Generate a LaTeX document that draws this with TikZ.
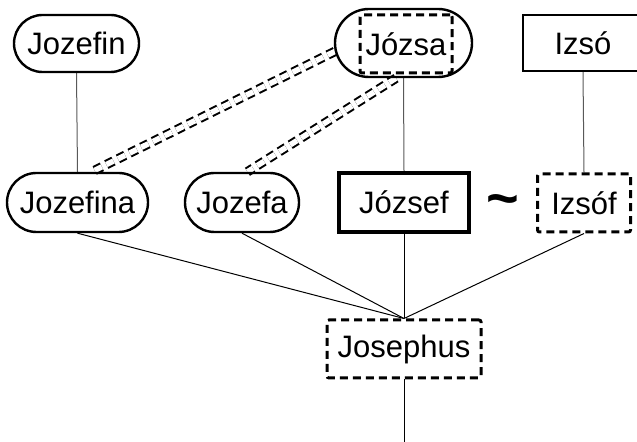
\documentclass[tikz,border=0pt]{standalone}
\usepackage{fontspec}
\setmainfont{Liberation Sans}
\usetikzlibrary{shapes.misc,backgrounds}
\begin{document}
\begin{tikzpicture}[x=0.5pt,y=-0.5pt,
    every node/.style={font=\fontsize{15.5}{18}\selectfont,inner sep=0pt},
    namebox/.style={rounded rectangle,draw,line width=1.2pt},
    plainbox/.style={rectangle,draw,line width=1.2pt},
    headbox/.style={rectangle,draw,line width=2pt},
    dashbox/.style={rectangle,draw,line width=1.5pt,rounded corners=1pt,
      dash pattern=on 4pt off 2.5pt},
    stem/.style={draw=black!65,line width=0.5pt},
    link/.style={draw,line width=0.5pt},
    twin/.style={draw,line width=1pt,double,double distance=2.75pt,
      dash pattern=on 4pt off 2.5pt}]
  \useasboundingbox (0,0) rectangle (637,442);
  \clip (0,0) rectangle (637,442);
  % Draw top row
  \node[namebox,minimum width=62.5pt,minimum height=28.5pt] (jozefin) at (76.5,43.5) {Jozefin};
  \node[namebox,minimum width=68.5pt,minimum height=34pt] (jozsa) at (403.5,43) {};
  \node[dashbox,minimum width=46pt,minimum height=29pt] (jozsain) at (406,44) {Józsa};
  \node[plainbox,minimum width=60pt,minimum height=28pt] (izso) at (583,43) {Izsó};
  % Draw middle row
  \node[namebox,minimum width=70.5pt,minimum height=29.5pt] (jozefina) at (77.5,202.5) {Jozefina};
  \node[namebox,minimum width=57pt,minimum height=29.5pt] (jozefa) at (242,202.5) {Jozefa};
  \node[headbox,minimum width=65pt,minimum height=29.5pt] (jozsef) at (404,202.5) {József};
  \node[font=\fontsize{28}{30}\selectfont\bfseries] (tilde) at (503,206) {\textasciitilde};
  \node[dashbox,minimum width=46.5pt,minimum height=29pt] (izsof) at (584,203) {Izsóf};
  % Draw root
  \node[dashbox,minimum width=77pt,minimum height=29pt] (josephus) at (404,349) {Josephus};
  \coordinate (bottom) at (404,442);
  % Draw connectors
  \begin{scope}[on background layer]
    \draw[stem] (jozefin.south) -- (jozefina.north);
    \draw[stem] (jozsa.south) -- (jozsef.north);
    \draw[stem] (izso.south) -- (izsof.north);
    \draw[twin] (jozsa.187) -- (jozefina.65);
    \draw[twin] (jozsa.258) -- (jozefa.80);
    \draw[link] (jozefina.south) -- (josephus.north);
    \draw[link] (jozefa.south) -- (josephus.north);
    \draw[link] (jozsef.south) -- (josephus.north);
    \draw[link] (izsof.south) -- (josephus.north);
    \draw[link] (josephus.south) -- (bottom);
  \end{scope}
\end{tikzpicture}
\end{document}
